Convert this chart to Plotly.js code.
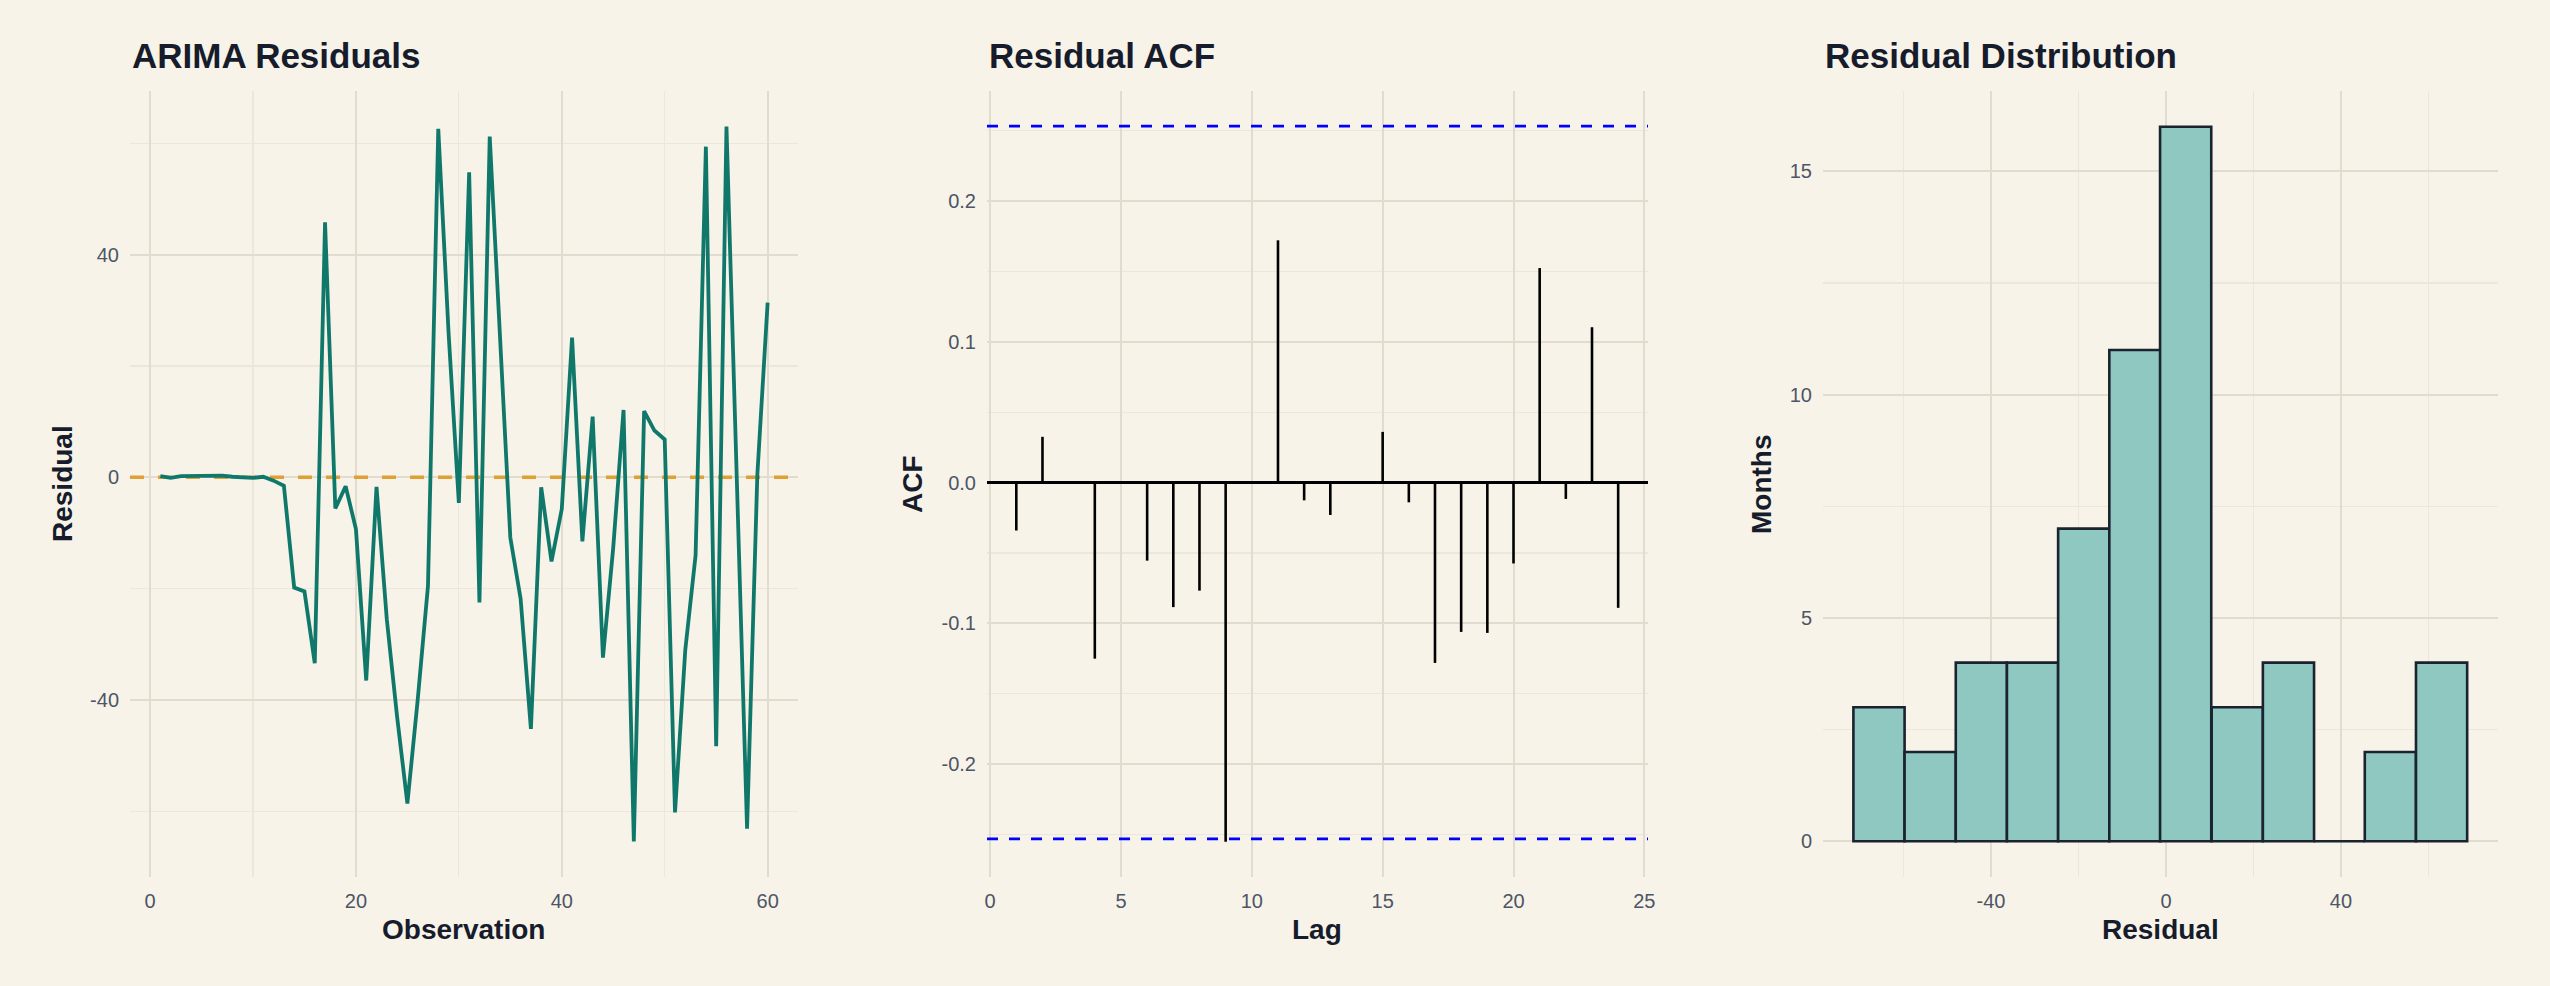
<!DOCTYPE html>
<html>
<head>
<meta charset="utf-8">
<script src="https://cdn.plot.ly/plotly-3.0.1.min.js"></script>
<style>
  html, body { margin: 0; padding: 0; background: #f7f3e8; }
  #chart { width: 2550px; height: 986px; }
</style>
</head>
<body>
<div id="chart"></div>
<script>
/* Residual diagnostics: residual series, ACF and histogram, three panels side by side. */

// Residuals of the fitted model, one per observation (1..60).
const residuals = [
  0.2, -0.1, 0.2, 0.2, 0.2, 0.3, 0.3, 0.1, 0.0, -0.1,
  0.1, -0.6, -1.5, -19.8, -20.5, -33.4, 45.8, -5.6, -1.6, -9.3,
  -36.5, -1.7, -25.5, -43.0, -58.6, -40.0, -19.5, 62.6, 26.0, -4.6,
  54.8, -22.5, 61.2, 24.5, -10.8, -21.8, -45.2, -1.8, -15.1, -5.7,
  25.1, -11.5, 10.9, -32.4, -12.6, 12.1, -65.4, 11.9, 8.4, 6.8,
  -60.2, -31.0, -14.0, 59.4, -48.3, 63.0, 0.5, -63.1, 0.5, 31.4
];

// Autocorrelation of the residuals, lags 1..24, and the 95% band.
const acfLags = [1, 2, 3, 4, 5, 6, 7, 8, 9, 10, 11, 12, 13, 14, 15, 16, 17, 18, 19, 20, 21, 22, 23, 24];
const acfValues = [
  -0.034, 0.0325, 0.001, -0.125, -0.001, -0.0554, -0.0884, -0.0767, -0.255, 0.0,
  0.172, -0.0126, -0.023, -0.001, 0.036, -0.014, -0.128, -0.106, -0.1067, -0.0574,
  0.1523, -0.0116, 0.1103, -0.0889
];
const acfBand = 0.253;

// Histogram of the residuals: 12 bins.
const binCenters = [-65.6, -53.9, -42.2, -30.5, -18.8, -7.1, 4.5, 16.3, 28.0, 39.6, 51.3, 63.0];
const binCounts = [3, 2, 4, 4, 7, 11, 16, 3, 4, 0, 2, 4];
const binWidth = 11.7;

// Tick labels (hyphen minus, as in the original).
const obsTicks = [0, 20, 40, 60];
const residTicks = [-40, 0, 40];
const residTickText = ["-40", "0", "40"];
const lagTicks = [0, 5, 10, 15, 20, 25];
const acfTicks = [-0.2, -0.1, 0, 0.1, 0.2];
const acfTickText = ["-0.2", "-0.1", "0.0", "0.1", "0.2"];
const histTicks = [-40, 0, 40];
const histTickText = ["-40", "0", "40"];
const countTicks = [0, 5, 10, 15];

const W = 2550, H = 986;
const FONT = "Liberation Sans, Arial, Helvetica, sans-serif";
const BG = "#f7f3e8";
const GRID = "#e1dccd";
const GRID_MINOR = "#ece7da";
const INK = "#161c2b";
const TICK_INK = "#4d5566";

// Axis ranges (ggplot-style padding around the data).
const OBS_RANGE = [-1.95, 62.95];
const RESID_RANGE = [-71.8, 69.4];
const LAG_RANGE = [-0.12, 25.14];
const ACF_RANGE = [-0.280, 0.278];
const HIST_RANGE = [-78.4, 75.9];
const COUNT_RANGE = [-0.8, 16.8];

// Plot areas in pixels, converted to paper fractions.
function xdom(left, right) { return [left / W, right / W]; }
const Y_DOMAIN = [1 - 877 / H, 1 - 91 / H];

function axis(extra) {
  return Object.assign({
    showgrid: true,
    gridcolor: GRID,
    gridwidth: 2,
    zeroline: false,
    showline: false,
    ticks: "",
    ticklabelstandoff: 10,
    tickfont: { family: FONT, size: 20, color: TICK_INK },
    fixedrange: true,
  }, extra);
}

function minor(vals) {
  return { tickvals: vals, showgrid: true, gridcolor: GRID_MINOR, gridwidth: 1.2, ticks: "" };
}

const observation = residuals.map((_, i) => i + 1);

// Dashed zero reference, drawn as a trace so the residual line sits on top of it.
const zeroTrace = {
  x: OBS_RANGE,
  y: [0, 0],
  xaxis: "x",
  yaxis: "y",
  type: "scatter",
  mode: "lines",
  line: { color: "#dfa034", width: 3.5, dash: "14px,14px" },
  hoverinfo: "skip",
};

const residualTrace = {
  x: observation,
  y: residuals,
  xaxis: "x",
  yaxis: "y",
  type: "scatter",
  mode: "lines",
  line: { color: "#10786b", width: 3.8 },
  hoverinfo: "skip",
};

// One vertical stem per lag, from zero to the ACF value.
const stemX = [];
const stemY = [];
acfLags.forEach(function (lag, i) {
  stemX.push(lag, lag, null);
  stemY.push(0, acfValues[i], null);
});

const acfTrace = {
  x: stemX,
  y: stemY,
  xaxis: "x2",
  yaxis: "y2",
  type: "scatter",
  mode: "lines",
  line: { color: "#000000", width: 2.6 },
  hoverinfo: "skip",
};

const histTrace = {
  x: binCenters,
  y: binCounts,
  width: binCenters.map(() => binWidth),
  xaxis: "x3",
  yaxis: "y3",
  type: "bar",
  marker: { color: "#8ec8c1", line: { color: "#1b2230", width: 2.6 } },
  hoverinfo: "skip",
};

function annot(text, x, y, size, extra) {
  return Object.assign({
    text: text,
    xref: "paper",
    yref: "paper",
    x: x / W,
    y: 1 - y / H,
    showarrow: false,
    font: { family: FONT, size: size, color: INK },
    xanchor: "center",
    yanchor: "middle",
  }, extra || {});
}

const annotations = [
  annot("<b>ARIMA Residuals</b>", 130, 55, 35, { xanchor: "left" }),
  annot("<b>Residual ACF</b>", 987, 55, 35, { xanchor: "left" }),
  annot("<b>Residual Distribution</b>", 1823, 55, 35, { xanchor: "left" }),
  annot("<b>Observation</b>", 464, 929, 28),
  annot("<b>Lag</b>", 1317, 929, 28),
  annot("<b>Residual</b>", 2160, 929, 28),
  annot("<b>Residual</b>", 62, 484, 28, { textangle: -90 }),
  annot("<b>ACF</b>", 912, 484, 28, { textangle: -90 }),
  annot("<b>Months</b>", 1761, 484, 28, { textangle: -90 }),
];

function hline(xa, ya, range, y, layer, line) {
  return { type: "line", xref: xa, yref: ya, x0: range[0], x1: range[1], y0: y, y1: y, layer: layer, line: line };
}

const BLUE_DASH = { color: "#0000ff", width: 2.8, dash: "11px,11px" };

// ACF confidence band and zero line.
const shapes = [
  hline("x2", "y2", LAG_RANGE, acfBand, "above", BLUE_DASH),
  hline("x2", "y2", LAG_RANGE, -acfBand, "above", BLUE_DASH),
  hline("x2", "y2", LAG_RANGE, 0, "above", { color: "#000000", width: 3 }),
];

const layout = {
  width: W,
  height: H,
  margin: { l: 0, r: 0, t: 0, b: 0 },
  paper_bgcolor: BG,
  plot_bgcolor: BG,
  showlegend: false,
  font: { family: FONT, color: INK },
  bargap: 0,

  xaxis: axis({ domain: xdom(130, 798), anchor: "y", range: OBS_RANGE,
    tickvals: obsTicks, ticktext: obsTicks.map(String), minor: minor([10, 30, 50]) }),
  yaxis: axis({ domain: Y_DOMAIN, anchor: "x", range: RESID_RANGE,
    tickvals: residTicks, ticktext: residTickText, minor: minor([-60, -20, 20, 60]) }),

  xaxis2: axis({ domain: xdom(987, 1648), anchor: "y2", range: LAG_RANGE,
    tickvals: lagTicks, ticktext: lagTicks.map(String) }),
  yaxis2: axis({ domain: Y_DOMAIN, anchor: "x2", range: ACF_RANGE,
    tickvals: acfTicks, ticktext: acfTickText, minor: minor([-0.25, -0.15, -0.05, 0.05, 0.15, 0.25]) }),

  xaxis3: axis({ domain: xdom(1823, 2498), anchor: "y3", range: HIST_RANGE,
    tickvals: histTicks, ticktext: histTickText, minor: minor([-60, -20, 20, 60]) }),
  yaxis3: axis({ domain: Y_DOMAIN, anchor: "x3", range: COUNT_RANGE,
    tickvals: countTicks, ticktext: countTicks.map(String), minor: minor([2.5, 7.5, 12.5]) }),

  annotations: annotations,
  shapes: shapes,
};

Plotly.newPlot("chart", [zeroTrace, residualTrace, acfTrace, histTrace], layout,
  { displayModeBar: false, staticPlot: true });
</script>
</body>
</html>
